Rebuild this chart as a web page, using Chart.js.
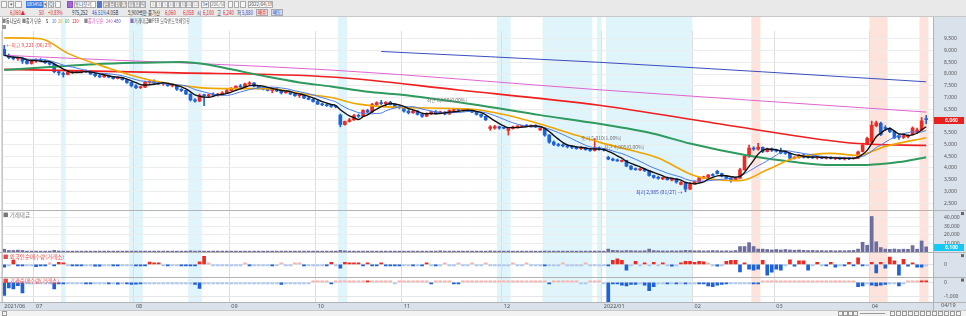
<!DOCTYPE html>
<html>
<head>
<meta charset="utf-8">
<script src="https://cdn.jsdelivr.net/npm/chart.js@4.4.1/dist/chart.umd.min.js"></script>
<style>
  body { margin: 0; width: 966px; height: 316px; overflow: hidden; background: #fff;
         font-family: "Noto Sans CJK KR", "Noto Sans", sans-serif; }
  #hdr { position: absolute; left: 0; top: 0; width: 966px; height: 17px; background: #e9e9e9;
         border-bottom: 1px solid #c8c8c8; box-sizing: border-box; }
  .b { position: absolute; top: 1px; height: 7px; border: 1px solid #aaa; background: #f6f6f6;
       box-sizing: border-box; font-size: 4.5px; line-height: 5px; text-align: center; color: #666;
       white-space: nowrap; overflow: hidden; }
  .t { position: absolute; top: 8px; font-size: 6px; line-height: 9px; white-space: nowrap; color: #333;
       transform: scaleX(0.72); transform-origin: 0 0; }
  .r { color: #e02828; } .bl { color: #2a55c8; }
  #wrap { position: absolute; left: 0; top: 17px; width: 966px; height: 299px; }
  #legend { position: absolute; left: 0; top: 17px; height: 8px; font-size: 5.5px; line-height: 8px;
            white-space: nowrap; color: #444; }
  #legend span { position: absolute; top: 0; transform: scaleX(0.72); transform-origin: 0 0; }
</style>
</head>
<body>
<div id="hdr">
  <span class="b" style="left:1px;width:6px"></span>
  <span class="b" style="left:8px;width:6px">▾</span>
  <span class="b" style="left:15px;width:7px"></span>
  <span class="b" style="left:26px;width:17px;background:#3f7fe0;color:#fff;border-color:#3f7fe0">083450</span>
  <span class="b" style="left:43px;width:4px">▾</span>
  <span class="b" style="left:48px;width:6px">Q</span>
  <span class="b" style="left:55px;width:6px"></span>
  <span class="b" style="left:67px;width:6px;background:#a468d6;border-color:#8850c0"></span>
  <span class="b" style="left:74px;width:22px;background:#fff;text-align:left;color:#333">동나모리</span>
  <span class="b" style="left:97px;width:5px;background:#5577cc;border-color:#5577cc"></span>
  <span class="b" style="left:103px;width:6px">일</span>
  <span class="b" style="left:109px;width:6px">주</span>
  <span class="b" style="left:115px;width:6px">월</span>
  <span class="b" style="left:121px;width:6px">년</span>
  <span class="b" style="left:128px;width:6px">분</span>
  <span class="b" style="left:134px;width:6px">초</span>
  <span class="b" style="left:140px;width:6px">틱</span>
  <span class="b" style="left:150px;width:6px;color:#aaa">1</span>
  <span class="b" style="left:156px;width:6px;color:#aaa">3</span>
  <span class="b" style="left:162px;width:6px;color:#aaa">5</span>
  <span class="b" style="left:168px;width:6px;color:#aaa">10</span>
  <span class="b" style="left:174px;width:6px;color:#aaa">15</span>
  <span class="b" style="left:180px;width:6px;color:#aaa">30</span>
  <span class="b" style="left:186px;width:6px;color:#aaa">60</span>
  <span class="b" style="left:192px;width:7px;color:#aaa">120</span>
  <span class="b" style="left:201px;width:8px">3▾</span>
  <span class="b" style="left:210px;width:15px;background:#fff">206/500</span>
  <span class="b" style="left:228px;width:5px"></span>
  <span class="b" style="left:234px;width:5px"></span>
  <span class="b" style="left:240px;width:6px"></span>
  <span class="b" style="left:248px;width:25px;background:#fff;color:#333">2022/04/19</span>
  <span class="t r" style="left:10px">6,060▲</span>
  <span class="t r" style="left:39px">50</span>
  <span class="t r" style="left:48px">+0.83%</span>
  <span class="t" style="left:72px">975,252</span>
  <span class="t bl" style="left:92px">46.51%</span>
  <span class="t" style="left:107px">4.05B</span>
  <span class="t" style="left:128px">5,900백만</span>
  <span class="t" style="left:148px">종가산</span>
  <span class="t r" style="left:165px">6,060</span>
  <span class="t r" style="left:183px">6,058</span>
  <span class="t" style="left:197px">시</span><span class="t r" style="left:203px">6,100</span>
  <span class="t" style="left:217px">고</span><span class="t r" style="left:223px">6,240</span>
  <span class="t" style="left:237px">저</span><span class="t bl" style="left:242px">5,880</span>
  <span class="b" style="left:256px;top:9px;width:12px;background:#f6d2d2;color:#d02020">매수</span>
  <span class="b" style="left:271px;top:9px;width:12px;background:#d2ddf6;color:#2040c0">매도</span>
</div>
<div id="wrap"><canvas id="priceChart" width="966" height="299"></canvas></div>
<div id="legend">
  <span style="left:2px;color:#888">■</span>
  <span style="left:6px;color:#333">동나모리</span>
  <span style="left:22px;color:#888">■</span>
  <span style="left:26px">종가 단순</span>
  <span style="left:46px;color:#111">5</span>
  <span style="left:52px;color:#3d6fe8">10</span>
  <span style="left:58px;color:#f0a000">20</span>
  <span style="left:65px;color:#2e9a5e">60</span>
  <span style="left:72px;color:#ee2020">120</span>
  <span style="left:84px;color:#888">■</span>
  <span style="left:88px;color:#d858c8">종가 단순</span>
  <span style="left:106px;color:#d858c8">240</span>
  <span style="left:114px;color:#4050c0">480</span>
  <span style="left:130px;color:#8870c0">■</span>
  <span style="left:134px;color:#555">거래대금</span>
  <span style="left:148px;color:#888">■</span>
  <span style="left:152px;color:#666">PER 모략밴드</span>
  <span style="left:175px;color:#666">역배열횡</span>
</div>

<script>
// daily candles [open, high, low, close], 2021/06 .. 2022/04/19
var ohlcJun = [
  [9050,9221,8780,8800],[8800,8850,8650,8700],[8700,8760,8600,8650],[8650,8720,8580,8680],
  [8680,8700,8450,8550],[8550,8600,8420,8450],[8450,8600,8420,8560]];
var ohlcJul = [
  [8560,8650,8500,8620],[8620,8660,8520,8560],[8560,8600,8450,8480],[8480,8520,8380,8420],
  [8420,8430,8050,8100],[8100,8150,7950,8050],[8020,8080,7870,7980],[7980,8120,7960,8080],
  [8060,8150,8020,8120],[8120,8160,8060,8090],[8080,8150,8040,8130],[8130,8180,8060,8100],
  [8080,8120,7980,8000],[8000,8030,7880,7930],[7930,7980,7850,7880],[7880,7960,7860,7940],
  [7940,7960,7840,7870],[7870,7900,7780,7810],[7810,7880,7790,7850],[7850,7870,7740,7760],
  [7760,7790,7600,7640],[7640,7660,7450,7500]];
var ohlcAug = [
  [7500,7550,7380,7420],[7420,7480,7380,7440],[7440,7700,7420,7650],[7650,7720,7600,7700],
  [7700,7750,7600,7620],[7620,7660,7560,7580],[7580,7640,7520,7600],[7600,7620,7480,7500],
  [7500,7560,7450,7520],[7520,7540,7300,7350],[7350,7380,7250,7300],[7300,7320,7120,7150],
  [7150,7160,6850,6900],[6900,6950,6800,6850],[6850,7150,6820,7100],[7100,7150,6650,7080],
  [7080,7150,7020,7120],[7120,7200,7080,7100],[7100,7180,7060,7150],[7150,7250,7120,7200],
  [7200,7350,7180,7300]];
var ohlcSep = [
  [7300,7420,7280,7400],[7400,7500,7350,7480],[7480,7560,7420,7450],[7450,7620,7430,7580],
  [7580,7680,7520,7620],[7620,7640,7450,7480],[7480,7500,7360,7400],[7400,7450,7320,7350],
  [7350,7420,7280,7300],[7300,7400,7200,7380],[7380,7420,7250,7280],[7280,7320,7150,7200],
  [7200,7260,7180,7240],[7240,7280,7120,7150],[7150,7180,7050,7080],[7080,7130,7000,7100],
  [7100,7120,6950,6980],[6980,7020,6900,6920],[6920,6950,6800,6830]];
var ohlcOct = [
  [6830,6880,6700,6720],[6720,6760,6650,6690],[6690,6720,6620,6650],[6650,6700,6580,6620],
  [6620,6650,6560,6600],[6250,6300,5750,5850],[5850,6000,5820,5980],[5980,6120,5950,6050],
  [6050,6280,6020,6230],[6230,6300,6150,6200],[6200,6480,6180,6450],[6450,6500,6350,6380],
  [6380,6750,6360,6700],[6700,6820,6650,6780],[6780,6880,6700,6740],[6740,6820,6660,6800],
  [6800,6840,6680,6700],[6700,6740,6560,6600],[6600,6660,6520,6580]];
var ohlcNov = [
  [6580,6620,6380,6420],[6420,6480,6300,6350],[6350,6450,6320,6420],[6420,6440,6250,6280],
  [6280,6320,6150,6200],[6200,6350,6180,6300],[6300,6420,6280,6400],[6400,6450,6300,6350],
  [6350,6420,6300,6380],[6380,6400,6260,6300],[6300,6480,6280,6450],[6450,6520,6400,6480],
  [6480,6520,6420,6460],[6460,6540,6440,6500],[6500,6520,6400,6420],[6420,6460,6350,6380],
  [6380,6400,6250,6280],[6280,6300,6150,6200],[6200,6220,6020,6050],[5680,5800,5600,5750],
  [5700,5820,5650,5760],[5760,5780,5650,5700]];
var ohlcDec = [
  [5700,5740,5660,5690],[5600,5720,5400,5680],[5680,5780,5650,5750],[5750,5800,5700,5780],
  [5780,5820,5720,5800],[5800,5850,5760,5780],[5780,5830,5740,5820],[5820,5840,5720,5750],
  [5620,5720,5600,5680],[5680,5700,5350,5400],[5400,5420,5050,5100],[5100,5150,4950,5000],
  [5000,5050,4920,4960],[4960,5020,4900,4940],[4940,4980,4850,4900],[4900,4950,4820,4880],
  [4880,4920,4800,4820],[4820,4900,4780,4860],[4860,4880,4750,4780],[4780,4820,4700,4740],
  [4740,5250,4720,4850],[4850,4900,4750,4800]];
var ohlcJan = [
  [4780,4820,4720,4760],[4450,4500,4350,4380],[4380,4420,4300,4330],[4330,4380,4280,4300],
  [4280,4350,4260,4320],[4320,4330,4050,4080],[4080,4100,3920,3950],[3950,4000,3900,3930],
  [3920,4000,3880,3960],[3960,3980,3850,3880],[3880,3900,3650,3680],[3680,3700,3560,3600],
  [3600,3650,3520,3560],[3540,3620,3500,3600],[3600,3620,3480,3500],[3480,3560,3450,3540],
  [3540,3560,3350,3400],[3300,3420,3280,3380],[3380,3400,2985,3100],[3100,3380,3080,3320]];
var ohlcFeb = [
  [3320,3450,3300,3420],[3420,3600,3400,3580],[3580,3650,3540,3600],[3600,3720,3580,3700],
  [3700,3760,3650,3680],[3860,3900,3740,3760],[3760,3780,3620,3650],[3650,3680,3520,3560],
  [3560,3580,3400,3500],[3500,3600,3480,3560],[3560,3980,3550,3920],[3920,4560,3900,4500],
  [4500,4970,4450,4850],[4850,4900,4750,4800],[4800,5050,4760,4880],[4880,4900,4650,4700],
  [4700,4850,4680,4820],[4820,4850,4700,4750]];
var ohlcMar = [
  [4750,4800,4680,4720],[4720,4850,4600,4640],[4640,4700,4580,4620],[4620,4640,4380,4420],
  [4420,4480,4380,4450],[4450,4580,4420,4550],[4550,4600,4420,4450],[4500,4560,4420,4460],
  [4460,4520,4400,4430],[4430,4480,4380,4460],[4460,4500,4400,4420],[4420,4470,4380,4450],
  [4450,4480,4380,4400],[4400,4450,4350,4420],[4420,4460,4360,4380],[4380,4450,4340,4420],
  [4420,4440,4350,4400],[4400,4450,4370,4420],[4420,4720,4400,4680],[4700,5060,4680,4980],
  [5000,5320,4980,5260]];
var ohlcApr = [
  [5100,6000,5040,5820],[5800,6000,5750,5920],[5900,5950,5380,5420],[5720,5800,5600,5680],
  [5680,5720,5500,5550],[5550,5580,5250,5280],[5380,5420,5220,5300],[5300,5420,5250,5380],
  [5330,5420,5280,5390],[5420,5750,5400,5700],[5520,5700,5480,5620],[5620,6150,5600,6010],
  [6100,6240,5880,6060]];

// 거래대금 (백만원), one value per day, month by month
var tradeValue = [
  3400,1900,1900,2300,1900,1200,1000,
  1100,900,1000,800,2000,1300,1000,900,800,1000,900,800,900,1000,800,900,800,700,900,800,1000,1100,
  1000,900,1200,1000,900,800,900,800,700,900,1000,1100,1500,1200,1300,1100,900,800,900,1000,900,
  900,1000,800,900,1000,900,800,700,800,900,800,700,800,900,800,700,800,900,1000,
  900,800,900,1000,900,2000,1500,1200,1000,900,1000,1200,1100,1000,900,800,900,800,900,
  800,900,800,900,1000,900,800,900,1500,1000,900,800,900,800,700,800,900,1000,1100,1400,1200,1100,
  900,1200,1000,900,800,900,800,900,1000,1300,1200,1000,900,800,900,1000,900,800,900,1000,1300,1000,
  1000,3500,2000,1800,1500,1800,1700,1500,1400,1600,3500,1800,1500,1400,1300,1500,1400,1600,2000,1800,
  1500,1600,1400,1500,1800,1600,1400,1500,1300,1800,6500,6500,11000,6500,3500,3500,3000,2500,
  3000,2500,3000,2500,2200,2500,2000,1800,2000,1700,1800,1600,1800,1500,1700,1600,1800,2000,3500,11400,8000,
  41500,12000,5300,3500,3200,3600,3000,3400,3200,7600,3400,13000,6100];

// 외국인 순매수
var foreignNet = [
  -300,-40,430,-170,-170,-30,-20,
  -230,-100,-100,50,-150,200,80,-30,-150,-150,-150,-30,-20,-200,-200,-30,-20,-150,-150,-30,-20,-30,
  -100,-120,-100,230,150,100,-40,-150,-30,-20,-80,-80,-100,-100,250,830,50,-30,-20,-40,-30,
  -30,-20,-40,30,-150,-30,-20,-40,-30,-100,-20,30,-30,-20,30,30,-100,-30,-20,
  -30,-20,-100,200,-30,-400,200,150,100,120,-100,150,-100,-100,150,-100,-100,-80,-100,
  -30,-20,-150,-30,-100,150,-20,-150,-30,30,-20,-30,20,-30,-20,30,-20,-30,20,-20,-30,-20,
  -20,-30,20,-20,-30,20,-20,-30,-20,-100,-30,-20,-30,20,-20,-30,-20,-30,20,-20,-30,-20,
  -30,-100,400,570,400,-600,-30,300,-20,100,-30,200,-20,150,-30,-200,-20,100,300,300,
  200,300,250,30,-30,-200,-20,300,400,400,-770,100,-500,-600,-500,400,-1100,-800,
  -500,-600,-30,470,-200,370,370,-600,-30,200,-30,-100,200,-300,-30,-100,200,-100,670,-100,-30,
  200,-870,200,-400,730,370,-1100,500,-200,150,-300,-300,-30];

// 기관 순매수
var instNet = [
  -950,-400,-480,-240,-760,-50,-40,
  -30,-40,-50,-40,-480,-100,-100,-30,-40,-30,-20,-100,-100,-30,-20,-30,-100,-30,-120,-40,-100,-150,
  -120,-100,-30,-20,-30,-20,-30,-20,-30,-20,-30,-20,-30,-150,-430,-30,-50,-50,-20,-30,-20,
  -20,-30,-20,-30,-20,-30,-20,-30,-20,-30,-20,-150,-30,-20,-30,-20,-30,-20,30,
  20,30,50,-80,20,30,50,30,20,30,20,80,20,30,20,30,20,-30,20,
  20,30,20,30,20,30,-100,20,30,20,30,-100,-100,20,30,20,30,20,30,20,30,20,
  20,30,50,20,30,20,30,20,30,20,-100,20,30,20,30,20,30,-50,-50,20,30,20,
  -30,-1420,-100,-100,-200,-250,-150,-150,-30,-200,-600,-300,-30,-20,-80,-50,-100,-50,-80,-30,
  -30,-80,-100,-250,-300,-200,-150,-100,-30,-20,-50,-30,-20,-100,-100,30,20,30,
  30,20,30,20,30,20,30,20,30,20,30,20,30,20,30,20,30,20,-300,-250,-30,
  -200,-250,-200,-150,-30,-20,-250,-30,50,30,50,100,60];

// long moving averages: [day index, price]
var ma20Pts = [[0,9540],[8,9500],[14,8880],[23,8250],[32,7750],[43,7420],[50,7380],[58,7380],
  [66,7150],[72,7000],[78,6720],[87,6580],[103,6500],[110,6280],[118,5875],[125,5450],[131,5100],
  [138,4750],[144,4420],[152,3670],[157,3500],[162,3460],[168,3920],[174,4420],[182,4620],
  [188,4540],[194,4920],[203,5290]];
var ma60Pts = [[0,8170],[10,8300],[20,8420],[30,8480],[39,8510],[45,8400],[50,8200],[58,7880],
  [65,7640],[72,7470],[80,7250],[87,7125],[103,6710],[118,6250],[131,5880],[143,5460],[151,5040],
  [164,4520],[174,4250],[182,4125],[190,4130],[197,4250],[203,4460]];
var ma120Pts = [[0,8200],[36,8060],[72,7875],[100,7320],[131,6670],[160,5800],[188,5040],[203,4960]];
var ma240Pts = [[0,8800],[10,8710],[72,8170],[131,7330],[203,6380]];
var ma480Pts = [[83,8960],[131,8500],[203,7670]];

// axis ticks
var priceTicks = [2500,3000,3500,4000,4500,5000,5500,6000,6500,7000,7500,8000,8500,9000,9500];
var volumeTicks = [10000,20000,30000,40000];
var foreignTicks = [0];
var instTicks = [-1000,0];

// month start index -> axis label
var months = [['2021/06',0],['07',7],['08',29],['09',50],['10',69],['11',88],['12',110],
  ['2022/01',132],['02',152],['03',170],['04',191]];

// highlighted day ranges
var blueBands = [[13,13],[28,30],[41,43],[74,75],[109,111],[119,129],[131,131],[133,151]];
var redBands = [[165,166],[191,194],[202,203]];

var notes = [
  { i: 0, v: 9221, text: '←최고 9,221 (06/23)', color: '#e84848', align: 'left', dx: 2 },
  { i: 150, v: 2985, text: '최저 2,985 (01/27) →', color: '#2b3fc0', align: 'right', dx: -3 },
  { i: 93, v: 6880, text: '최근 6,950(0.00%)', color: '#777', align: 'left', dx: 0 },
  { i: 127, v: 5280, text: '종가 5,010(1.00%)', color: '#777', align: 'left', dx: 0 },
  { i: 132, v: 4900, text: '최근 4,905(0.00%)', color: '#777', align: 'left', dx: 0 }
];

var candles = [].concat(ohlcJun, ohlcJul, ohlcAug, ohlcSep, ohlcOct, ohlcNov, ohlcDec,
  ohlcJan, ohlcFeb, ohlcMar, ohlcApr);
var closes = candles.map(function (c) { return c[3]; });

var UP = '#ec2a22', DOWN = '#1f62d6';
var candleColors = candles.map(function (c, i) {
  if (c[3] > c[0]) return UP;
  if (c[3] < c[0]) return DOWN;
  return (i > 0 && c[3] >= candles[i - 1][3]) ? UP : DOWN;
});

function sma(arr, n) {
  return arr.map(function (_, i) {
    var s = Math.max(0, i - n + 1), sum = 0;
    for (var k = s; k <= i; k++) sum += arr[k];
    return sum / (i - s + 1);
  });
}
function netColors(arr) {
  return arr.map(function (v) {
    if (v >= 60) return UP;
    if (v > 0) return '#f6b2ae';
    if (v <= -60) return DOWN;
    return '#a9c5f2';
  });
}
function pts(list) { return list.map(function (p) { return { x: p[0], y: p[1] }; }); }
function fmt(v) { return Math.round(v).toLocaleString('en-US'); }
function fixedTicks(values) {
  return function (s) { s.ticks = values.map(function (v) { return { value: v }; }); };
}

var labels = [];
for (var i = 0; i <= candles.length; i++) labels.push(i);
var monthAt = {};
months.forEach(function (m) { monthAt[m[1]] = m[0]; });

function maLine(data, color, width, order) {
  return { type: 'line', data: data, borderColor: color, borderWidth: width, pointRadius: 0,
           tension: 0.35, cubicInterpolationMode: 'monotone', yAxisID: 'y', order: order };
}

var tickOpts = { autoSkip: false, padding: 11, color: '#555', font: { size: 5 },
                 callback: function (v) { return fmt(v); } };
function fitWidth(s) { s.width = 33; }

var panelPlugin = {
  id: 'panels',
  beforeDraw: function (chart) {
    var c = chart.ctx, a = chart.chartArea, x = chart.scales.x;
    var w = x.getPixelForValue(1) - x.getPixelForValue(0);
    c.save();
    c.fillStyle = '#d9e1eb';
    c.fillRect(a.right, 0, chart.width - a.right, a.bottom + 8);
    c.fillRect(0, a.bottom, chart.width, 8);
    function band(list, color) {
      c.fillStyle = color;
      list.forEach(function (b) {
        var x0 = x.getPixelForValue(b[0]) - w / 2, x1 = x.getPixelForValue(b[1]) + w / 2;
        c.fillRect(x0, 0, x1 - x0, a.bottom);
      });
    }
    band(blueBands, '#e0f4fb');
    band(redBands, '#fde3dc');
    c.restore();
  },
  afterDraw: function (chart) {
    var c = chart.ctx, a = chart.chartArea, s = chart.scales;
    c.save();
    // panel dividers
    c.strokeStyle = '#b4b4b4';
    c.lineWidth = 1;
    [s.yv.top, s.yf.top, s.yi.top, a.bottom].forEach(function (yy) {
      c.beginPath(); c.moveTo(0, Math.round(yy) + 0.5); c.lineTo(chart.width, Math.round(yy) + 0.5); c.stroke();
    });
    c.strokeStyle = '#c4c4c4';
    c.beginPath(); c.moveTo(a.left + 0.5, 0); c.lineTo(a.left + 0.5, a.bottom); c.stroke();
    c.strokeStyle = '#aab4c2';
    c.beginPath(); c.moveTo(a.right + 0.5, 0); c.lineTo(a.right + 0.5, a.bottom + 8); c.stroke();
    // panel titles
    c.font = '5.5px "Noto Sans CJK KR"';
    c.textBaseline = 'top';
    c.textAlign = 'left';
    c.fillStyle = '#777';
    c.fillText('■ 거래대금', 3, s.yv.top + 2);
    c.fillStyle = '#e84a4a';
    c.fillText('■ 외국인순매수량(거래소)', 3, s.yf.top + 2);
    c.fillText('■ 기관순매수량(거래소)', 3, s.yi.top + 2);
    // corner marks
    c.fillStyle = '#666';
    [s.yv.top, s.yf.top, s.yi.top].forEach(function (yy) { c.fillRect(chart.width - 5, yy + 2, 3, 3); });
    c.fillStyle = '#999';
    c.fillRect(2, 8, 4, 4);
    // annotations
    c.font = '5px "Noto Sans CJK KR"';
    c.textBaseline = 'middle';
    notes.forEach(function (n) {
      c.fillStyle = n.color;
      c.textAlign = n.align;
      c.fillText(n.text, s.x.getPixelForValue(n.i) + n.dx, s.y.getPixelForValue(n.v));
    });
    // last price tag
    var last = closes[closes.length - 1];
    var yp = Math.round(s.y.getPixelForValue(last));
    c.fillStyle = '#e82020';
    c.fillRect(a.right + 1, yp - 3, chart.width - a.right - 3, 7);
    c.fillStyle = '#fff';
    c.textAlign = 'left';
    c.font = 'bold 5px "Noto Sans"';
    c.fillText(fmt(last), a.right + 12, yp + 0.5);
    // last trade value tag
    var lv = tradeValue[tradeValue.length - 1];
    var yv = Math.round(s.yv.getPixelForValue(lv));
    c.fillStyle = '#18c6f2';
    c.fillRect(a.right + 1, yv - 3, chart.width - a.right - 3, 7);
    c.fillStyle = '#fff';
    c.fillText(fmt(lv), a.right + 12, yv + 0.5);
    // date at the end of the x axis
    c.fillStyle = '#555';
    c.font = '5.5px "Noto Sans"';
    c.textBaseline = 'top';
    c.fillText('04/19', a.right + 8, a.bottom + 1);
    // scroll bar
    var sy = a.bottom + 8;
    c.fillStyle = '#f2f2f2';
    c.fillRect(0, sy, chart.width, chart.height - sy);
    c.strokeStyle = '#c8c8c8';
    c.beginPath(); c.moveTo(0, sy + 0.5); c.lineTo(chart.width, sy + 0.5); c.stroke();
    c.strokeStyle = '#999';
    c.strokeRect(2.5, sy + 1.5, 4, 4);
    [838, 843, 848, 853].forEach(function (bx) { c.strokeRect(bx + 0.5, sy + 1.5, 4, 4); });
    c.beginPath(); c.moveTo(860, sy + 3.5); c.lineTo(885, sy + 3.5); c.stroke();
    for (var k = 0; k < 12; k++) c.strokeRect(890.5 + k * 6, sy + 1.5, 4, 4);
    c.restore();
  }
};

Chart.defaults.font.family = '"Noto Sans", "Noto Sans CJK KR", sans-serif';

var ctx = document.getElementById('priceChart').getContext('2d');
var priceChart = new Chart(ctx, {
  type: 'bar',
  data: {
    labels: labels,
    datasets: [
      maLine(sma(closes, 5), '#111111', 1.4, 0),
      maLine(sma(closes, 10), '#4a7cf0', 1, 1),
      maLine(pts(ma20Pts), '#f0a500', 1.6, 2),
      maLine(pts(ma60Pts), '#2e9a5e', 2, 2),
      maLine(pts(ma120Pts), '#f01e1e', 1.6, 2),
      maLine(pts(ma240Pts), '#e064d2', 1, 3),
      maLine(pts(ma480Pts), '#3a4ec0', 1, 3),
      { label: 'body', data: candles.map(function (c) { return [c[0], c[3]]; }),
        backgroundColor: candleColors, barThickness: 3, minBarLength: 1, grouped: false,
        yAxisID: 'y', order: 5 },
      { label: 'wick', data: candles.map(function (c) { return [c[2], c[1]]; }),
        backgroundColor: candleColors, barThickness: 1, grouped: false, yAxisID: 'y', order: 6 },
      { label: '거래대금', data: tradeValue, backgroundColor: '#6d6d9e', barThickness: 3,
        minBarLength: 1, grouped: false, yAxisID: 'yv', order: 7 },
      { label: '외국인', data: foreignNet, backgroundColor: netColors(foreignNet), barThickness: 3,
        minBarLength: 1.5, grouped: false, yAxisID: 'yf', order: 7 },
      { label: '기관', data: instNet, backgroundColor: netColors(instNet), barThickness: 3,
        minBarLength: 1.5, grouped: false, yAxisID: 'yi', order: 7 }
    ]
  },
  options: {
    responsive: false,
    animation: false,
    devicePixelRatio: 1,
    layout: { padding: { left: 2, right: 0, top: 8, bottom: 6 } },
    plugins: { legend: { display: false }, tooltip: { enabled: false } },
    scales: {
      x: {
        offset: true,
        grid: { offset: true, drawTicks: false,
                color: function (c) { return monthAt[c.index] !== undefined ? '#dedede' : 'rgba(0,0,0,0)'; } },
        border: { display: false },
        ticks: { autoSkip: false, maxRotation: 0, align: 'start', padding: 1, color: '#555',
                 font: { size: 5.5 },
                 callback: function (v, i) { return monthAt[i] || ''; } },
        afterFit: function (s) { s.height = 8; }
      },
      y: {
        position: 'right', stack: 'panes', stackWeight: 183, min: 2208, max: 9833,
        grid: { color: '#ececec', drawTicks: false }, border: { display: false },
        ticks: tickOpts, afterBuildTicks: fixedTicks(priceTicks), afterFit: fitWidth
      },
      yv: {
        position: 'right', stack: 'panes', stackWeight: 43, min: 0, max: 49000,
        grid: { color: '#ececec', drawTicks: false }, border: { display: false },
        ticks: tickOpts, afterBuildTicks: fixedTicks(volumeTicks), afterFit: fitWidth
      },
      yf: {
        position: 'right', stack: 'panes', stackWeight: 25, min: -1250, max: 1250,
        grid: { color: '#e2e2e2', drawTicks: false }, border: { display: false },
        ticks: tickOpts, afterBuildTicks: fixedTicks(foreignTicks), afterFit: fitWidth
      },
      yi: {
        position: 'right', stack: 'panes', stackWeight: 26, min: -1430, max: 430,
        grid: { color: '#e6e6e6', drawTicks: false }, border: { display: false },
        ticks: tickOpts, afterBuildTicks: fixedTicks(instTicks), afterFit: fitWidth
      }
    }
  },
  plugins: [panelPlugin]
});
</script>
</body>
</html>
